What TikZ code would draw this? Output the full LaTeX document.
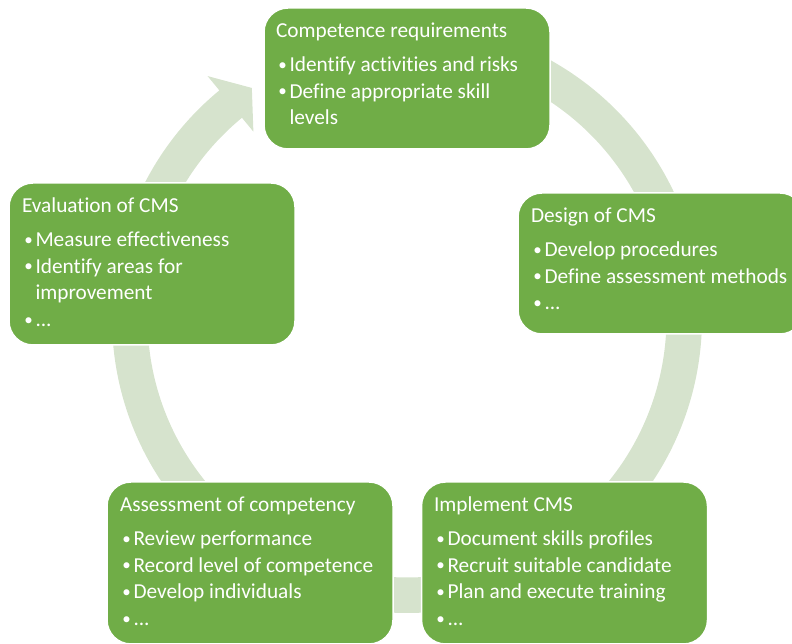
\documentclass[tikz,border=0pt]{standalone}
\usepackage{fontspec}
\setmainfont{Carlito}[Ligatures={NoCommon,NoRequired,NoContextual}]
\definecolor{boxgreen}{HTML}{70AD47}
\definecolor{ringgreen}{HTML}{D6E3CD}
\newcommand{\smbullet}{\raisebox{1.4pt}{\fontsize{17}{17}\selectfont\textbullet}}
\newcommand{\bitem}[1]{\hbox{\hbox to 13.5pt{\hskip 2.3pt\smbullet\hss}#1}}
\newcommand{\bcont}[1]{\hbox{\hskip 13.5pt #1}}
\newcommand{\cmstext}[2]{\vtop{\fontsize{21.3}{26.7}\selectfont\hbox{#1}\vskip 6.8pt #2}}
\begin{document}
\begin{tikzpicture}[x=1pt,y=1pt,
  cmsbox/.style={draw=white, line width=1.5pt, fill=boxgreen, rounded corners=24pt,
    minimum width=286pt, inner sep=0pt, outer sep=0pt},
  cmstxt/.style={text=white, anchor=base west, inner sep=0pt, outer sep=0pt}]
\useasboundingbox (0,0) rectangle (792,644);
\clip (0,0) rectangle (792,644);
\coordinate (C) at (407,326);
% circular arrow
\fill[ringgreen] ([shift={(C)}]90:295) arc[start angle=90, end angle=-230.5, radius=295]
  -- ([shift={(C)}]129.5:313.5) -- ([shift={(C)}]124:277.5) -- ([shift={(C)}]129.5:241.5)
  -- ([shift={(C)}]129.5:259.5) arc[start angle=-230.5, end angle=90, radius=259.5] -- cycle;
% boxes
\node[cmsbox, minimum height=141pt] (top) at (407,565.5) {};
\node[cmsbox, minimum height=141pt] (design) at (661,380.5) {};
\node[cmsbox, minimum height=162pt] (eval) at (152,380) {};
\node[cmsbox, minimum height=162pt] (assess) at (250,81) {};
\node[cmsbox, minimum height=162pt] (impl) at (564.5,81) {};
% texts
\node[cmstxt] (toptxt) at ([shift={(12,-30)}]top.north west)
  {\cmstext{Competence requirements}{\bitem{Identify activities and risks}\bitem{Define appropriate skill}\bcont{levels}}};
\node[cmstxt] (designtxt) at ([shift={(13,-30)}]design.north west)
  {\cmstext{Design of CMS}{\bitem{Develop procedures}\bitem{Define assessment methods}\bitem{...}}};
\node[cmstxt] (evaltxt) at ([shift={(13,-30)}]eval.north west)
  {\cmstext{Evaluation of CMS}{\bitem{Measure effectiveness}\bitem{Identify areas for}\bcont{improvement}\bitem{...}}};
\node[cmstxt] (assesstxt) at ([shift={(13,-30)}]assess.north west)
  {\cmstext{Assessment of competency}{\bitem{Review performance}\bitem{Record level of competence}\bitem{Develop individuals}\bitem{...}}};
\node[cmstxt] (impltxt) at ([shift={(12.5,-30)}]impl.north west)
  {\cmstext{Implement CMS}{\bitem{Document skills profiles}\bitem{Recruit suitable candidate}\bitem{Plan and execute training}\bitem{...}}};
\end{tikzpicture}
\end{document}
